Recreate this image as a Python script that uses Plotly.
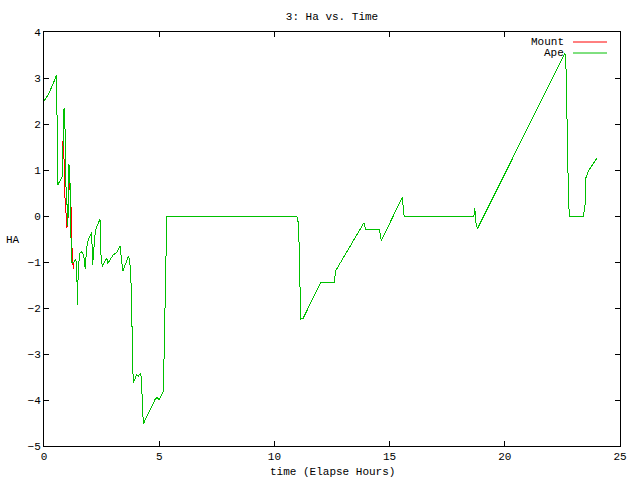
import plotly.graph_objects as go

# ---- data (elapsed hours, HA) ----
ape_t = [0, 0.2, 0.4, 0.55, 0.58, 0.6, 0.79, 0.81, 0.87, 0.9, 0.94, 0.96, 1.0, 1.03,
         1.06, 1.08, 1.12, 1.14, 1.16, 1.19, 1.3, 1.38, 1.42, 1.45, 1.49, 1.56, 1.62,
         1.72, 1.79, 1.85, 1.92, 2.07, 2.11, 2.18, 2.23, 2.43, 2.47, 2.53, 2.72, 2.77,
         3.01, 3.15, 3.3, 3.33, 3.37, 3.42, 3.66, 3.72, 3.81, 3.83, 3.88, 4.02, 4.1,
         4.2, 4.24, 4.28, 4.31, 4.82, 4.9, 5.0, 5.18, 5.22, 5.28, 5.33, 10.97, 11.04,
         11.08, 11.11, 11.14, 11.25, 12.02, 12.59, 12.67, 13.86, 13.9, 13.96, 14.55,
         14.6, 14.64, 15.55, 15.58, 15.63, 18.66, 18.7, 18.73, 18.81, 22.61, 22.66,
         22.69, 22.71, 22.76, 22.8, 23.41, 23.48, 23.52, 23.62, 23.99]
ape_ha = [2.5, 2.65, 2.88, 3.07, 1.3, 0.68, 0.85, 1.2, 2.35, 1.9, 1.85, 0.26, 0.26, -0.22,
          0.26, 1.13, 0.91, 0.48, -0.4, -1.0, -1.0, -0.95, -1.1, -1.93, -1.1, -0.8, -0.77,
          -0.85, -1.15, -0.69, -0.51, -0.36, -1.06, -0.52, -0.31, -0.07, -0.84, -1.1, -0.91, -1.03,
          -0.84, -0.8, -0.66, -0.8, -1.02, -1.2, -0.88, -0.95, -1.75, -3.02, -3.63, -3.45, -3.48,
          -3.41, -3.7, -4.25, -4.52, -3.99, -3.94, -3.99, -3.81, -2.83, -0.95, 0.0, 0.0, -0.15,
          -0.73, -1.75, -2.24, -2.22, -1.44, -1.44, -1.18, -0.17, -0.15, -0.3, -0.3,
          -0.4, -0.54, 0.41, 0.3, 0.0, 0.0, 0.17, -0.1, -0.28, 3.54, 3.18,
          2.38, 1.48, 0.5, 0.0, 0.0, 0.21, 0.83, 0.97, 1.25]

mount_t = [0, 0.2, 0.4, 0.55, 0.58, 0.6, 0.79, 0.81, 0.84, 0.86, 0.88, 0.93, 0.98, 1.03,
           1.1, 1.16, 1.2, 1.27, 1.3, 1.38, 1.42, 1.45, 1.49, 1.56, 1.62,
           1.72, 1.79, 1.85, 1.92, 2.07, 2.11, 2.18, 2.23, 2.43, 2.47, 2.53, 2.72, 2.77,
           3.01, 3.15, 3.3, 3.33, 3.37, 3.42, 3.66, 3.72, 3.81, 3.83, 3.88, 4.02, 4.1,
           4.2, 4.24, 4.28, 4.31, 4.82, 4.9, 5.0, 5.18, 5.22, 5.28, 5.33, 10.97, 11.04,
           11.08, 11.11, 11.14, 11.25, 12.02, 12.59, 12.67, 13.86, 13.9, 13.96, 14.55,
           14.6, 14.64, 15.55, 15.58, 15.63, 18.66, 18.7, 18.73, 18.81, 22.61, 22.66,
           22.69, 22.71, 22.76, 22.8, 23.41, 23.48, 23.52, 23.62, 23.99]
mount_ha = [2.5, 2.65, 2.88, 3.07, 1.3, 0.68, 0.85, 1.2, 1.95, 1.9, 0.4, 0.39, -0.25, -0.22,
            0.75, 0.57, -0.57, -1.15, -1.0, -0.95, -1.1, -1.93, -1.1, -0.8, -0.77,
            -0.85, -1.15, -0.69, -0.51, -0.36, -1.06, -0.52, -0.31, -0.07, -0.84, -1.1, -0.91, -1.03,
            -0.84, -0.8, -0.66, -0.8, -1.02, -1.2, -0.88, -0.95, -1.75, -3.02, -3.63, -3.45, -3.48,
            -3.41, -3.7, -4.25, -4.52, -3.99, -3.94, -3.99, -3.81, -2.83, -0.95, 0.0, 0.0, -0.15,
            -0.73, -1.75, -2.24, -2.22, -1.44, -1.44, -1.18, -0.17, -0.15, -0.3, -0.3,
            -0.4, -0.54, 0.41, 0.3, 0.0, 0.0, 0.17, -0.1, -0.28, 3.54, 3.18,
            2.38, 1.48, 0.5, 0.0, 0.0, 0.21, 0.83, 0.97, 1.25]

x_ticks = [0, 5, 10, 15, 20, 25]
y_ticks = [-5, -4, -3, -2, -1, 0, 1, 2, 3, 4]

FONT = "Liberation Mono"
RED = "#ff0000"
GREEN = "#00c000"

fig = go.Figure()
fig.add_trace(go.Scatter(x=mount_t, y=mount_ha, mode="lines", name="Mount",
                         line=dict(color=RED, width=1)))
fig.add_trace(go.Scatter(x=ape_t, y=ape_ha, mode="lines", name="Ape",
                         line=dict(color=GREEN, width=1)))

axis_common = dict(showgrid=False, zeroline=False, showline=True, linecolor="black",
                   linewidth=1, mirror="ticks", ticks="inside", ticklen=5,
                   tickcolor="black", tickwidth=1,
                   tickfont=dict(family=FONT, size=11, color="black"))

fig.update_xaxes(range=[0, 25], tickvals=x_ticks, **axis_common)
fig.update_yaxes(range=[-5, 4], tickvals=y_ticks, **axis_common)

W, H = 640, 480
L, R, T, B = 44, 20, 32, 34
pw, ph = W - L - R, H - T - B

def px(x):
    return (x - L) / pw

def py(y):
    return (H - B - y) / ph

annotations = [
    dict(text="HA", x=px(13), y=py(240), xref="paper", yref="paper",
         showarrow=False, xanchor="center", yanchor="middle",
         font=dict(family=FONT, size=11, color="black")),
    dict(text="time (Elapse Hours)", x=0.5, y=py(472), xref="paper", yref="paper",
         showarrow=False, xanchor="center", yanchor="middle",
         font=dict(family=FONT, size=11, color="black")),
    dict(text="Mount", x=px(566), y=py(42), xref="paper", yref="paper",
         showarrow=False, xanchor="right", yanchor="middle",
         font=dict(family=FONT, size=11, color="black")),
    dict(text="Ape", x=px(566), y=py(53), xref="paper", yref="paper",
         showarrow=False, xanchor="right", yanchor="middle",
         font=dict(family=FONT, size=11, color="black")),
]
shapes = [
    dict(type="line", xref="paper", yref="paper", x0=px(573), x1=px(607),
         y0=py(42), y1=py(42), line=dict(color=RED, width=1)),
    dict(type="line", xref="paper", yref="paper", x0=px(573), x1=px(607),
         y0=py(53), y1=py(53), line=dict(color=GREEN, width=1)),
]

fig.update_layout(
    width=W, height=H, autosize=False,
    margin=dict(l=L, r=R, t=T, b=B, pad=0),
    paper_bgcolor="white", plot_bgcolor="white",
    showlegend=False,
    title=dict(text="3: Ha vs. Time", x=0.5, xref="paper", y=1 - 16 / H,
               yanchor="middle", xanchor="center",
               font=dict(family=FONT, size=11, color="black")),
    annotations=annotations, shapes=shapes,
)

post = (
    "document.body.style.margin='0';"
    "var s=document.createElement('style');"
    "s.textContent='.js-line{shape-rendering:crispEdges;}';"
    "document.head.appendChild(s);"
)

fig.write_html("out.html", post_script=post, config={"displayModeBar": False})
